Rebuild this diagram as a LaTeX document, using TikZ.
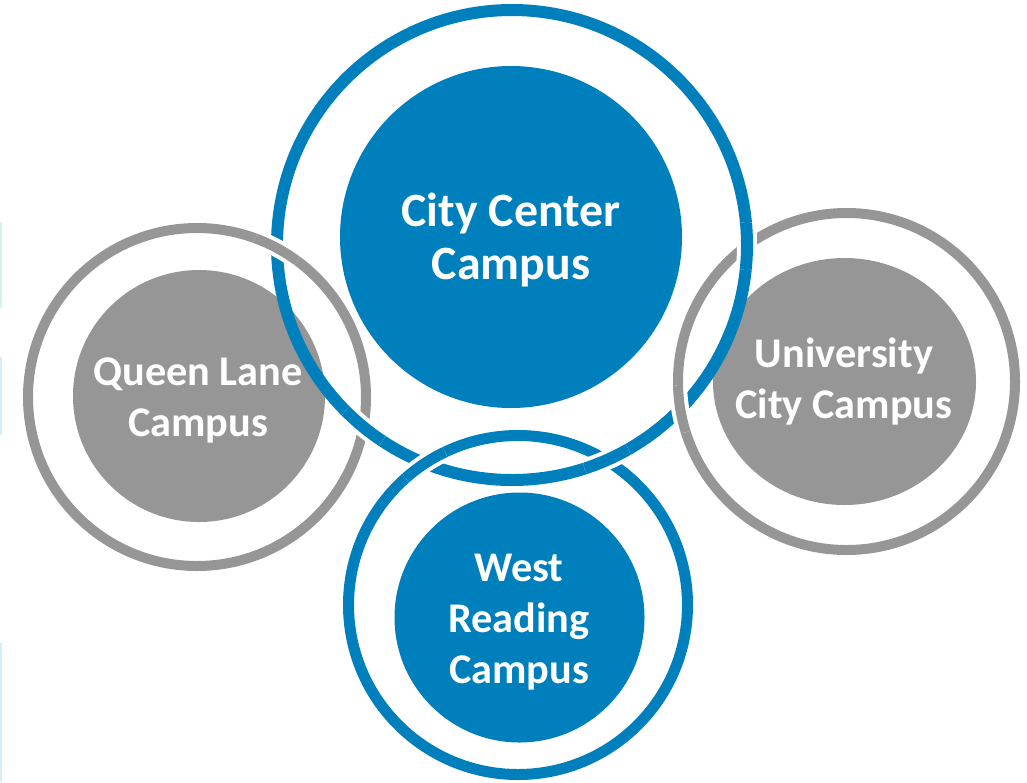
\documentclass[tikz,border=0pt]{standalone}
\usepackage{fontspec}
\setmainfont{Carlito}

\definecolor{campusblue}{RGB}{0,127,189}
\definecolor{campusgrey}{RGB}{150,150,150}
\definecolor{edgemint}{RGB}{205,245,232}
\definecolor{edgeblue}{RGB}{212,237,248}

\tikzset{
  campus/.style={text=white, align=center, font=\bfseries\fontsize{42.3}{51}\selectfont},
  bigcampus/.style={campus, font=\bfseries\fontsize{47.8}{53}\selectfont},
}

\begin{document}
\begin{tikzpicture}[x=1pt, y=-1pt]
  \useasboundingbox (0,0) rectangle (1027,782);
  % faint strips at the left edge
  \fill[edgemint] (0,222) rectangle (2,308);
  \fill[edgeblue] (0,357) rectangle (2,435);
  \fill[edgeblue] (0,643) rectangle (2,782);

  \coordinate (cityc) at (512,245);
  \coordinate (queenc) at (197,397);
  \coordinate (univc) at (846.5,381.5);
  \coordinate (westc) at (518,605);

  % inner discs
  \fill[campusblue] (511,237) circle (171);
  \fill[campusgrey] (199,396) circle (126);
  \fill[campusgrey] (844.5,381.5) ellipse (131.5 and 123.5);
  \fill[campusblue] (519.5,617.5) circle (125);

  % rings
  \draw[campusblue, line width=12pt] (cityc) circle (235);
  \draw[campusgrey, line width=10pt] (queenc) circle (169);
  \draw[campusgrey, line width=10pt] (univc) circle (168.5);
  \draw[campusblue, line width=11pt] (westc) circle (169.5);

  % ring on top at each crossing
  \foreach \px/\py/\cen/\rad/\col/\wd/\cw in {277/248/queenc/169/campusgrey/10/18,
      363/427/cityc/235/campusblue/12/20, 747/246/cityc/235/campusblue/12/20,
      680/409/univc/168.5/campusgrey/10/18, 424/463/westc/169.5/campusblue/11/19,
      607/460/cityc/235/campusblue/12/20} {
    \begin{scope}
      \clip (\px,\py) circle (24);
      \draw[white, line width=\cw pt] (\cen) circle (\rad);
      \draw[\col, line width=\wd pt] (\cen) circle (\rad);
    \end{scope}
  }

  \node[bigcampus] (city) at (511,240) {City Center\\Campus};
  \node[campus] (queen) at (198,400) {Queen Lane\\Campus};
  \node[campus] (univ) at (844,381) {University\\City Campus};
  \node[campus] (west) at (519,622) {West\\Reading\\Campus};
\end{tikzpicture}
\end{document}
